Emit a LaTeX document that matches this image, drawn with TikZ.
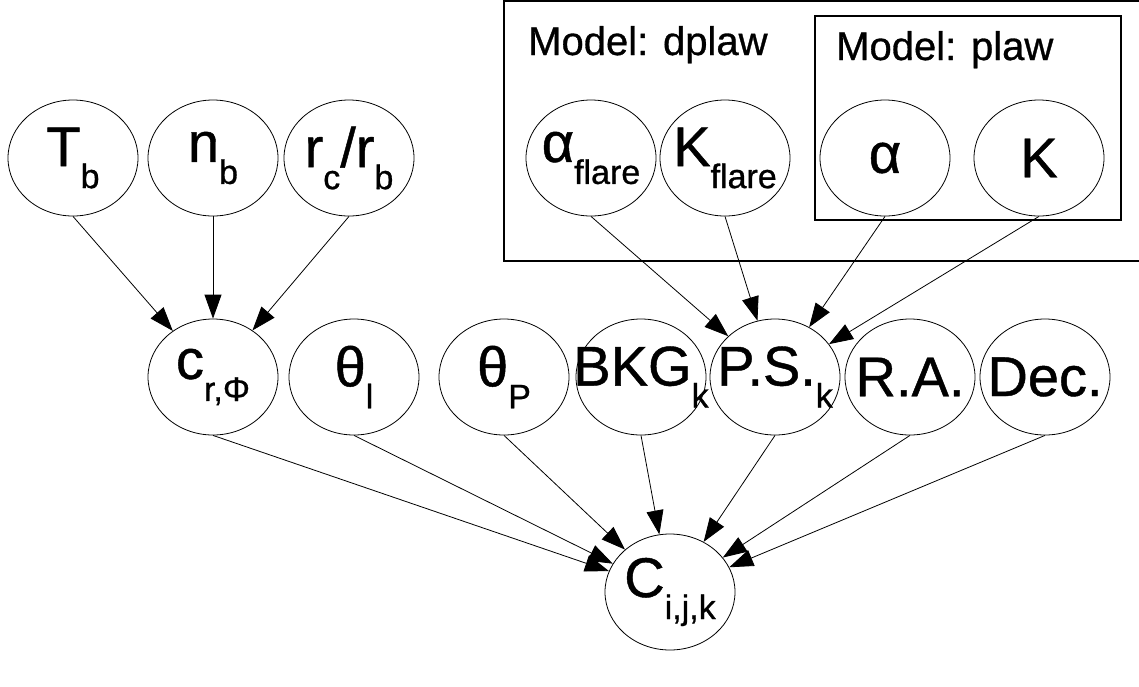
\documentclass[tikz,border=0pt]{standalone}
\usepackage{fontspec}
\setmainfont{Liberation Sans}[FakeBold=0.8]
\usetikzlibrary{shapes.geometric,arrows.meta}
\newcommand\mainsz{\fontsize{56}{56}\selectfont}
\newcommand\subt[1]{\raisebox{-22pt}{\fontsize{34}{34}\selectfont #1}}
\newcommand\ntext[1]{\makebox[0pt][c]{\mainsz #1}}
\begin{document}
\begin{tikzpicture}[x=1pt,y=-1pt,
  var/.style={draw, ellipse, minimum width=130pt, minimum height=116pt, inner sep=0pt, line width=0.8pt},
  edge/.style={line width=0.8pt, -{Triangle[length=24pt,width=17pt]}},
  plate/.style={line width=1.2pt},
  platelabel/.style={anchor=base west, inner sep=0pt, font=\fontsize{40}{40}\selectfont}]
\useasboundingbox (0,0) rectangle (1139,686);
\clip (0,0) rectangle (1139,686);
% plates
\draw[plate] (504,1) rectangle (1150,261);
\draw[plate] (815,16) rectangle (1121,220);
\node[platelabel] (ldplaw) at (528,55) {Model: dplaw};
\node[platelabel] (lplaw) at (836,60) {Model: plaw};
% top row
\node[var] (Tb) at (73,158) {\ntext{T\subt{b}}};
\node[var] (nb) at (213,158) {\ntext{n\subt{b}}};
\node[var] (rc) at (349,158) {\ntext{r\subt{c}/r\subt{b}}};
\node[var] (af) at (591,158) {\ntext{α\subt{flare}}};
\node[var] (Kf) at (725,158) {\ntext{K\subt{flare}}};
\node[var] (al) at (885,158) {\ntext{α}};
\node[var] (K) at (1039,158) {\ntext{K}};
% middle row
\node[var] (c) at (213,377) {\ntext{c\subt{r,Φ}}};
\node[var] (thl) at (354,377) {\ntext{θ\subt{l}}};
\node[var] (thp) at (504,377) {\ntext{θ\subt{P}}};
\node[var] (bkg) at (641,377) {\ntext{BKG\subt{k}}};
\node[var] (ps) at (775,377) {\ntext{P.S.\subt{k}}};
\node[var] (ra) at (910,377) {\ntext{R.A.}};
\node[var] (dec) at (1045,377) {\ntext{Dec.}};
% bottom
\node[var] (C) at (670,592) {\ntext{C\subt{i,j,k}}};
% edges
\draw[edge] (Tb.south) -- (c);
\draw[edge] (nb.south) -- (c);
\draw[edge] (rc.south) -- (c);
\draw[edge] (af.south) -- (ps);
\draw[edge] (Kf.south) -- (ps);
\draw[edge] (al.south) -- (ps);
\draw[edge] (K.south) -- (ps);
\foreach \s in {c,thl,thp,bkg,ps,ra,dec}
  \draw[edge] (\s.south) -- (C);
\end{tikzpicture}
\end{document}
